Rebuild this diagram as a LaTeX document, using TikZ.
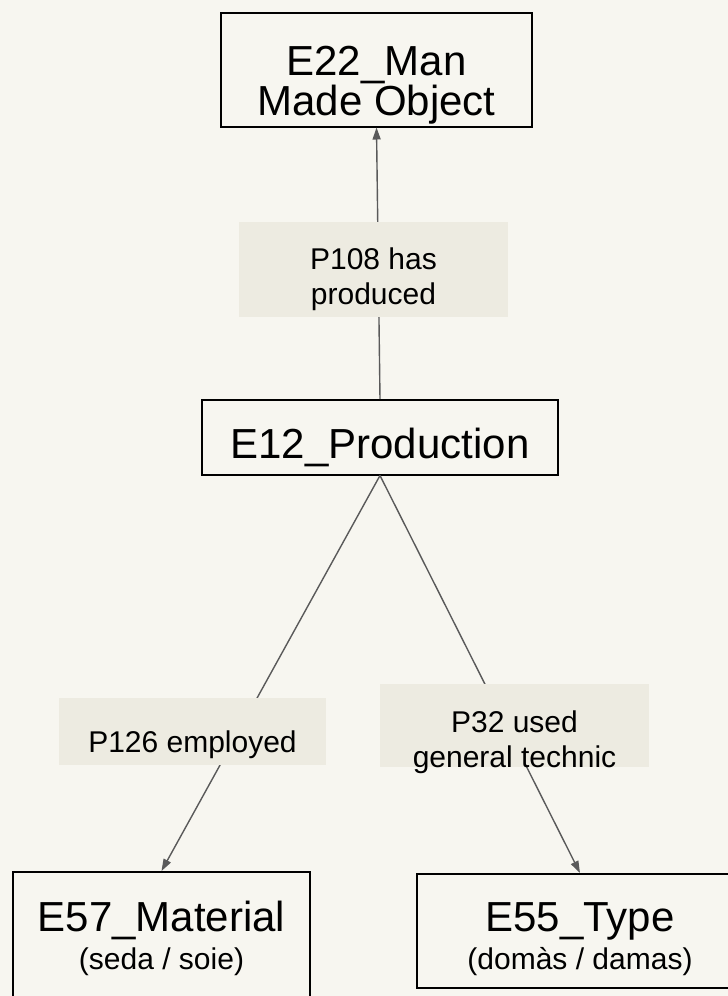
\documentclass[tikz,border=0pt]{standalone}
\usepackage{fontspec}
\setmainfont{Liberation Sans}
\usepackage{xcolor}
\usetikzlibrary{arrows.meta}

\definecolor{paper}{HTML}{F7F6F0}
\definecolor{tag}{HTML}{EDEBE1}
\definecolor{wire}{HTML}{5A5A5A}

\begin{document}
\begin{tikzpicture}[
    x=1pt, y=-1pt,
    entity/.style={rectangle, draw=black, line width=1.5pt, inner sep=0pt, align=center, font=\fontsize{42}{38}\selectfont},
    prop/.style={rectangle, fill=tag, inner sep=0pt, align=center, font=\fontsize{30}{35}\selectfont},
    link/.style={draw=wire, line width=1.4pt, -{Triangle[length=12pt,width=8pt]}},
]

% Page
\useasboundingbox (0,0) rectangle (728,996);
\fill[paper] (0,0) rectangle (728,996);
\clip (0,0) rectangle (728,996);

% Entities
\node[entity, anchor=north, minimum width=311pt, text height=103pt, text depth=11pt] (e22) at (376.5,12) {E22\_Man\\Made Object};
\node[entity, anchor=north, minimum width=356pt, text height=59pt, text depth=16pt] (e12) at (380,399) {E12\_Production};
\node[entity, anchor=north, minimum width=297pt, text height=98pt, text depth=41pt] (e57) at (161.5,871) {E57\_Material\\{\fontsize{30}{38}\selectfont (seda / soie)}};
\node[entity, anchor=north, minimum width=326pt, text height=96pt, text depth=18pt] (e55) at (580,873) {E55\_Type\\{\fontsize{30}{37}\selectfont (domàs / damas)}};

% Arrows
\draw[link] (e12.north) -- (e22.south);
\draw[link] (e12.south) -- (e57.north);
\draw[link] (e12.south) -- (e55.north);

% Labels
\node[prop, anchor=north, minimum width=269pt, text height=82pt, text depth=13pt] (p108) at (373.5,222) {P108 has\\produced};
\node[prop, anchor=north, minimum width=267pt, text height=54pt, text depth=13pt] (p126) at (192.5,698) {P126 employed};
\node[prop, anchor=north, minimum width=269pt, text height=83pt, text depth=0pt] (p32) at (514.5,684) {P32 used\\general technic};

\end{tikzpicture}
\end{document}
